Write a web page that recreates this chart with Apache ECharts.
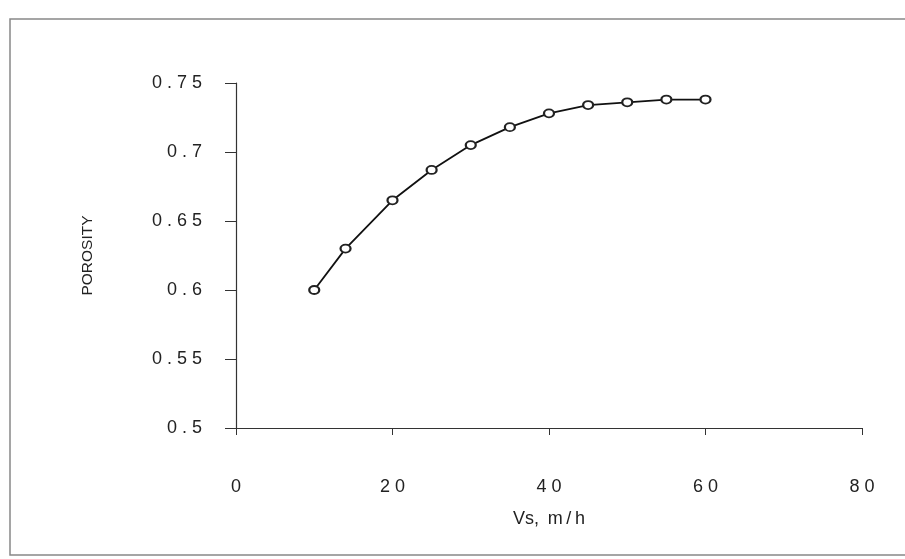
<!DOCTYPE html>
<html>
<head>
<meta charset="utf-8">
<script src="https://cdn.jsdelivr.net/npm/echarts@6/dist/echarts.min.js"></script>
<style>
  html, body { margin: 0; padding: 0; background: #fff; }
  #chart { width: 905px; height: 559px; }
</style>
</head>
<body>
<div id="chart"></div>
<script>
// Vs, m/h
var vsValues = [10, 14, 20, 25, 30, 35, 40, 45, 50, 55, 60];
// porosity
var porosityValues = [0.600, 0.630, 0.665, 0.687, 0.705, 0.718, 0.728, 0.734, 0.736, 0.738, 0.738];

var xTicks = [0, 20, 40, 60, 80];
var yTicks = [0.5, 0.55, 0.6, 0.65, 0.7, 0.75];

// spread out characters like the scanned labels, "0.75" -> "0 . 7 5"
function spaced(v) {
  return String(v).split('').join(' ');
}

var points = [];
for (var i = 0; i < vsValues.length; i++) {
  points.push([vsValues[i], porosityValues[i]]);
}

var chart = echarts.init(document.getElementById('chart'));
var option = {
  backgroundColor: '#fff',
  animation: false,
  textStyle: { fontFamily: 'Liberation Sans, Arial, sans-serif' },
  graphic: [
    {
      type: 'rect',
      shape: { x: 10, y: 19, width: 900, height: 536 },
      style: { fill: 'none', stroke: '#888', lineWidth: 1.5 }
    }
  ],
  grid: {
    left: 236,
    right: 43,
    top: 83,
    bottom: 131
  },
  xAxis: {
    type: 'value',
    min: xTicks[0],
    max: xTicks[xTicks.length - 1],
    interval: 20,
    name: 'Vs,\u2009 m\u2009/\u2009h',
    nameLocation: 'middle',
    nameGap: 82,
    nameTextStyle: { fontSize: 18, color: '#222', fontFamily: 'Liberation Sans' },
    axisLine: { show: true, onZero: false, lineStyle: { color: '#333', width: 1.2 } },
    axisTick: { show: true, inside: false, length: 7, lineStyle: { color: '#333' } },
    axisLabel: {
      margin: 50,
      fontSize: 18,
      color: '#222',
      formatter: function (v) { return spaced(v); }
    },
    splitLine: { show: false }
  },
  yAxis: {
    type: 'value',
    min: yTicks[0],
    max: yTicks[yTicks.length - 1],
    interval: 0.05,
    name: 'POROSITY',
    nameLocation: 'middle',
    nameGap: 140,
    nameRotate: 90,
    nameTextStyle: { fontSize: 15.5, color: '#222', fontFamily: 'Liberation Sans' },
    axisLine: { show: true, onZero: false, lineStyle: { color: '#333', width: 1.2 } },
    axisTick: { show: true, inside: false, length: 11, lineStyle: { color: '#333' } },
    axisLabel: {
      margin: 34,
      fontSize: 18,
      color: '#222',
      formatter: function (v) { return spaced(Math.round(v * 100) / 100); }
    },
    splitLine: { show: false }
  },
  series: [
    {
      name: 'POROSITY',
      type: 'line',
      data: points,
      smooth: false,
      symbol: 'emptyCircle',
      symbolSize: [10, 8],
      lineStyle: { color: '#111', width: 1.8 },
      itemStyle: { color: '#222', borderWidth: 1.2 }
    }
  ]
};
chart.setOption(option);
</script>
</body>
</html>
